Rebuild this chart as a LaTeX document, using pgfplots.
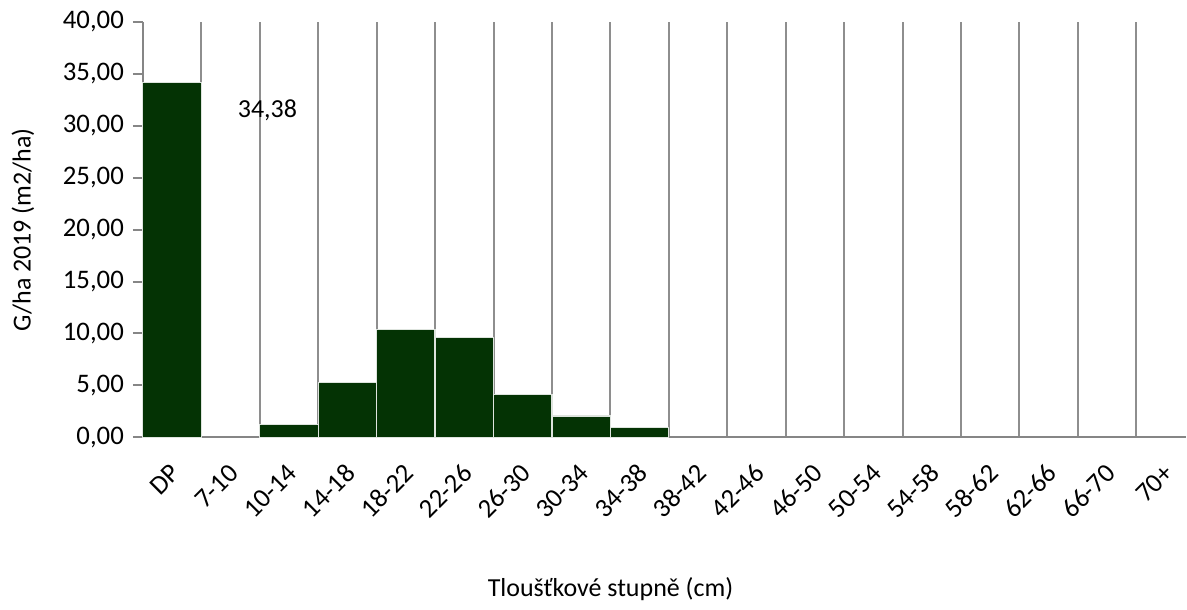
\documentclass[border=0pt]{standalone}
\usepackage{pgfplots}
\pgfplotsset{compat=1.18}
\usepackage{fontspec}
\setmainfont{Carlito}
\definecolor{barg}{RGB}{4,51,4}
\definecolor{axg}{RGB}{134,134,134}
\definecolor{grg}{RGB}{142,142,142}
\definecolor{edg}{RGB}{222,228,222}
\begin{document}
\fontsize{13}{15}\selectfont
\begin{tikzpicture}
\begin{axis}[
  name=ax,
  scale only axis,
  width=522pt, height=207.85pt,
  xmin=-0.5, xmax=17.35,
  ymin=0, ymax=40,
  axis lines=left,
  axis line style={-, draw=axg, line width=1pt},
  xtick={0,1,...,17},
  xticklabels={DP,7-10,10-14,14-18,18-22,22-26,26-30,30-34,34-38,38-42,42-46,46-50,50-54,54-58,58-62,62-66,66-70,70+},
  xtick style={draw=none},
  minor xtick={0.5,1.5,...,16.5},
  xminorgrids=true,
  minor x tick style={draw=none},
  minor grid style={draw=grg, line width=1pt},
  ytick={0,5,...,40},
  tick align=outside,
  major tick length=5pt,
  ytick style={draw=axg, line width=1pt},
  /pgf/number format/assume math mode=true,
  yticklabel style={/pgf/number format/.cd, fixed, fixed zerofill, precision=2, use comma},
  ticklabel style={font=\fontsize{13.4}{15}\selectfont},
  xticklabel style={xshift=2.5pt, yshift=-10pt, rotate=45, anchor=east, inner sep=1pt},
  ylabel={G/ha 2019 (m2/ha)},
  ylabel style={at={(axis description cs:-0.1149,0.5)}, anchor=center, font=\fontsize{13}{15}\selectfont},
  xlabel={Tloušťkové stupně (cm)},
  xlabel style={at={(axis description cs:0.4483,-0.3664)}, anchor=center, font=\fontsize{13}{15}\selectfont},
  ybar, bar width=1,
  clip=false,
]
\addplot[fill=barg, draw=edg, line width=0.6pt] coordinates {
  (0,34.2) (2,1.22) (3,5.26) (4,10.42) (5,9.65) (6,4.10) (7,2.05) (8,0.93)
};
\node[font=\fontsize{13}{15}\selectfont, anchor=center] at (axis cs:1.632,31.54) {34,38};
\end{axis}
\path[use as bounding box] ([shift={(-71.5pt,-83.15pt)}]ax.south west) rectangle ([shift={(522pt,218.85pt)}]ax.south west);
\end{tikzpicture}
\end{document}
